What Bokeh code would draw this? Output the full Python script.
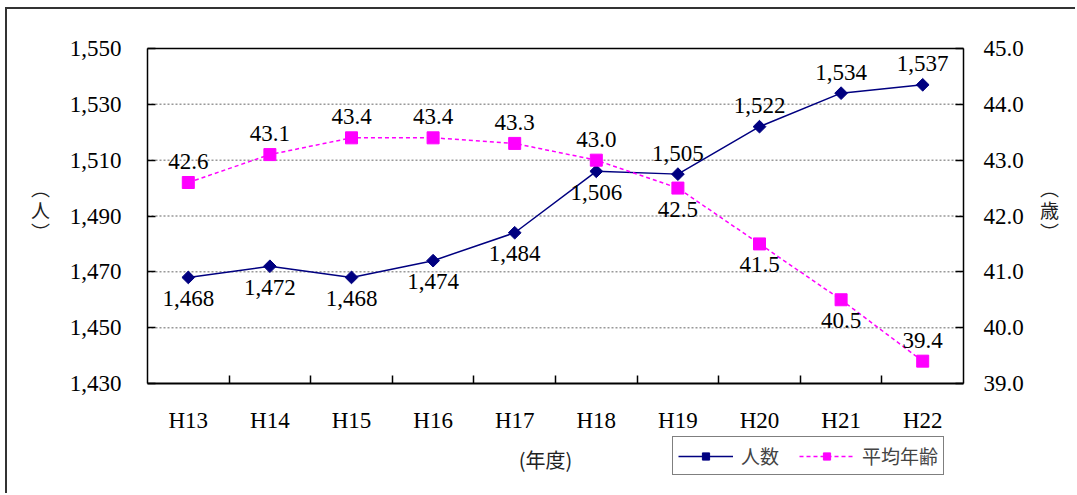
import math
from bokeh.plotting import figure
from bokeh.models import (Range1d, LinearAxis, FixedTicker, NumeralTickFormatter,
                          Legend, LegendItem, Label, ColumnDataSource)
from bokeh.embed import file_html
from bokeh.resources import INLINE

# ---- data ----
years = ["H13", "H14", "H15", "H16", "H17", "H18", "H19", "H20", "H21", "H22"]
staff = [1468, 1472, 1468, 1474, 1484, 1506, 1505, 1522, 1534, 1537]
age = [42.6, 43.1, 43.4, 43.4, 43.3, 43.0, 42.5, 41.5, 40.5, 39.4]
left_ticks = [1430, 1450, 1470, 1490, 1510, 1530, 1550]
right_ticks = [39.0, 40.0, 41.0, 42.0, 43.0, 44.0, 45.0]
staff_side = ["below"] * 6 + ["above"] * 4
age_side = ["above"] * 6 + ["below"] * 3 + ["above"]

SERIF = "Liberation Serif"
CJK = "Noto Sans CJK JP"
NAVY = "#000080"
MAGENTA = "#FF00FF"
FS = "23px"

# ---- layout constants (page pixels) ----
ML, MT, BW = 5, 7, 2          # css margin and border of the figure
CX, CY = ML + BW, MT + BW     # canvas origin on the page
W, H = 1077 - CX, 495 - CY    # canvas size
PL, PT, PR, PB = 147, 48, 963, 383   # plot area box on the page

n = len(years)
xs = [i + 0.5 for i in range(n)]
ux = n / (PR - PL)
uy = (left_ticks[-1] - left_ticks[0]) / (PB - PT)
ua = (right_ticks[-1] - right_ticks[0]) / (PB - PT)

x_range = Range1d((CX - PL) * ux, (CX + W - PL) * ux)
y_range = Range1d(left_ticks[0] - (CY + H - PB) * uy, left_ticks[-1] + (PT - CY) * uy)
a_range = Range1d(right_ticks[0] - (CY + H - PB) * ua, right_ticks[-1] + (PT - CY) * ua)


def px_x(px):
    return (px - PL) * ux


def px_y(py):
    return left_ticks[0] + (PB - py) * uy


OFF = 21
staff_src = ColumnDataSource(dict(
    x=xs, y=staff, label=[f"{v:,}" for v in staff],
    off=[-OFF if s == "above" else OFF for s in staff_side]))
age_src = ColumnDataSource(dict(
    x=xs, y=age, label=[f"{v:.1f}" for v in age],
    off=[-OFF if s == "above" else OFF for s in age_side]))

p = figure(width=W, height=H, output_backend="svg", toolbar_location=None,
           x_range=x_range, y_range=y_range,
           x_axis_location=None, y_axis_location=None,
           min_border=0, min_border_left=0, min_border_right=0,
           min_border_top=0, min_border_bottom=0)
p.styles = {"margin-left": f"{ML}px", "margin-top": f"{MT}px",
            "border-top": f"{BW}px solid #333", "border-left": f"{BW}px solid #333"}
p.background_fill_color = "white"
p.border_fill_color = "white"
p.outline_line_color = None
p.grid.visible = False
p.extra_y_ranges = {"age": a_range}

# horizontal dotted grid lines inside the plot box
p.segment(x0=0, x1=n, y0=left_ticks[1:-1], y1=left_ticks[1:-1],
          line_color="#999999", line_dash="2 2", line_width=1.5)

# ---- axes (drawn at fixed locations around the plot box) ----
xa = LinearAxis(fixed_location=left_ticks[0], bounds=(0, n),
                ticker=FixedTicker(ticks=xs, minor_ticks=list(range(1, n))))
xa.major_label_overrides = {x: y for x, y in zip(xs, years)}
xa.major_tick_in = 0
xa.major_tick_out = 0
xa.minor_tick_in = 8
xa.minor_tick_out = 0
xa.minor_tick_line_color = "black"
xa.minor_tick_line_width = 1.5
xa.axis_line_color = "black"
xa.axis_line_width = 2
xa.major_label_text_font = SERIF
xa.major_label_text_font_size = FS
xa.major_label_text_color = "black"
xa.major_label_standoff = 24
p.add_layout(xa, "below")

top = LinearAxis(fixed_location=left_ticks[-1], bounds=(0, n), ticker=FixedTicker(ticks=[]))
top.axis_line_color = "black"
top.axis_line_width = 1.5
top.major_label_text_color = None
p.add_layout(top, "above")

ya = LinearAxis(fixed_location=0, bounds=(left_ticks[0], left_ticks[-1]),
                ticker=FixedTicker(ticks=left_ticks),
                formatter=NumeralTickFormatter(format="0,0"))
ra = LinearAxis(fixed_location=n, y_range_name="age", bounds=(right_ticks[0], right_ticks[-1]),
                ticker=FixedTicker(ticks=right_ticks),
                formatter=NumeralTickFormatter(format="0.0"))
for ax, standoff in ((ya, 26), (ra, 20)):
    ax.axis_line_color = "black"
    ax.axis_line_width = 1.5
    ax.major_tick_in = 8
    ax.major_tick_out = 0
    ax.major_tick_line_color = "black"
    ax.major_tick_line_width = 1.5
    ax.minor_tick_line_color = None
    ax.major_label_text_font = SERIF
    ax.major_label_text_font_size = FS
    ax.major_label_text_color = "black"
    ax.major_label_standoff = standoff
p.add_layout(ya, "left")
p.add_layout(ra, "right")

# ---- series ----
r1 = p.line("x", "y", source=staff_src, color=NAVY, line_width=1.5)
r1m = p.scatter("x", "y", source=staff_src, marker="square", angle=math.pi / 4,
                size=9, color=NAVY)
r2 = p.line("x", "y", source=age_src, color=MAGENTA, line_width=1.5, line_dash="4 3",
            y_range_name="age")
r2m = p.scatter("x", "y", source=age_src, marker="square", size=12, color=MAGENTA,
                y_range_name="age")

p.text("x", "y", text="label", source=staff_src, y_offset="off",
       text_align="center", text_baseline="middle",
       text_font={"value": SERIF}, text_font_size={"value": FS}, text_color="black")
p.text("x", "y", text="label", source=age_src, y_offset="off", y_range_name="age",
       text_align="center", text_baseline="middle",
       text_font={"value": SERIF}, text_font_size={"value": FS}, text_color="black")

# ---- axis titles ----
p.add_layout(Label(x=px_x(40), y=px_y(209), text="︵\n人\n︶", text_align="center",
                   text_baseline="middle", text_font=CJK, text_font_size="19px",
                   text_line_height=0.82, text_color="#222"))
p.add_layout(Label(x=px_x(1049), y=px_y(209), text="︵\n歳\n︶", text_align="center",
                   text_baseline="middle", text_font=CJK, text_font_size="19px",
                   text_line_height=0.82, text_color="#222"))
p.add_layout(Label(x=px_x(545), y=px_y(459), text="(年度)", text_align="center",
                   text_baseline="middle", text_font=CJK, text_font_size="20px",
                   text_color="#222"))

legend = Legend(items=[LegendItem(label="人数", renderers=[r1, r1m]),
                       LegendItem(label="平均年齢", renderers=[r2, r2m])],
                location=(672 - CX, CY + H - 475), orientation="horizontal", margin=0,
                glyph_width=55, glyph_height=18, label_standoff=8, spacing=20,
                padding=5, label_text_font=CJK, label_text_font_size="19px",
                border_line_color="black", border_line_width=1.5,
                background_fill_color="white", background_fill_alpha=1)
p.add_layout(legend)

open("out.html", "w").write(file_html(p, INLINE))
